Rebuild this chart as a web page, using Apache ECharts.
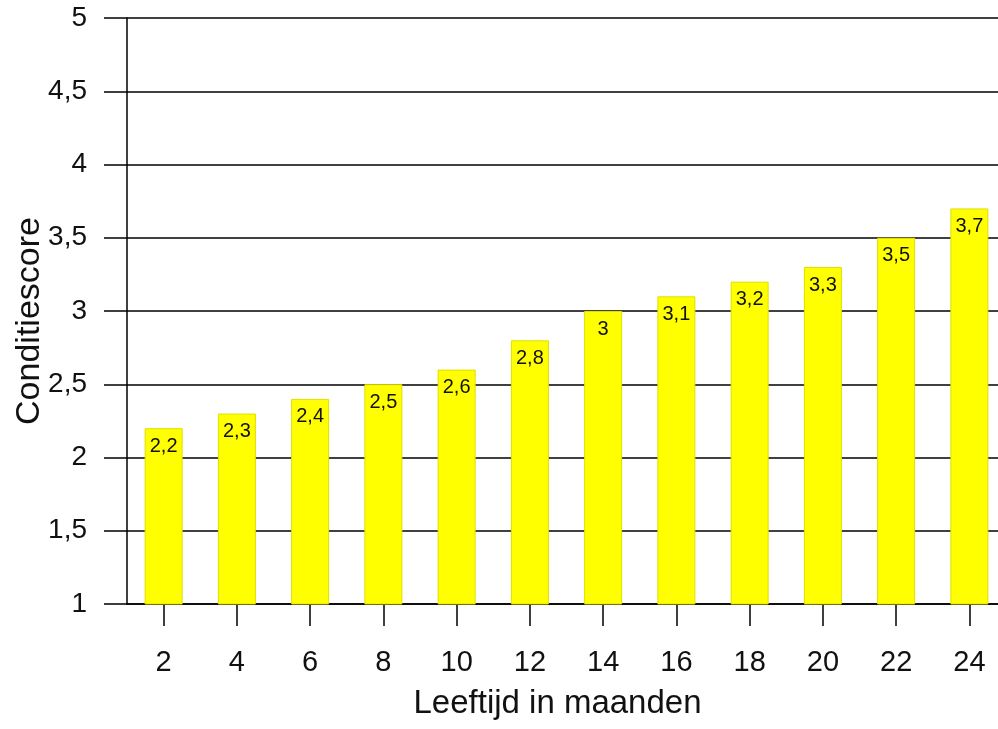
<!DOCTYPE html>
<html>
<head>
<meta charset="utf-8">
<script src="https://cdn.jsdelivr.net/npm/echarts@6/dist/echarts.min.js"></script>
<style>
  html, body { margin: 0; padding: 0; background: #fff; overflow: hidden; }
  /* the plot runs a few pixels past the right window edge */
  #chart { width: 1006px; height: 729px; }
</style>
</head>
<body>
<div id="chart"></div>
<script>
// Leeftijd (maanden) en gemiddelde conditiescore
const months = ['2', '4', '6', '8', '10', '12', '14', '16', '18', '20', '22', '24'];
const scores = [2.2, 2.3, 2.4, 2.5, 2.6, 2.8, 3, 3.1, 3.2, 3.3, 3.5, 3.7];
const yMin = 1, yMax = 5, yStep = 0.5;

const font = '"Liberation Sans", Arial, Helvetica, sans-serif';
const comma = v => String(v).replace('.', ',');

const chart = echarts.init(document.getElementById('chart'), null, { renderer: 'canvas' });
chart.setOption({
  animation: false,
  backgroundColor: '#ffffff',
  grid: { left: 127, right: 0, top: 18, bottom: 125, containLabel: false, outerBoundsMode: 'none' },
  xAxis: {
    type: 'category',
    data: months,
    name: 'Leeftijd in maanden',
    nameLocation: 'middle',
    nameGap: 83,
    nameMoveOverlap: false,
    nameTextStyle: { fontFamily: font, fontSize: 33, color: '#111', padding: [0, 18, 0, 0] },
    axisLine: { show: true, lineStyle: { color: '#000', width: 1.5 } },
    axisTick: { show: true, alignWithLabel: true, length: 22, lineStyle: { color: '#000', width: 1.5 } },
    axisLabel: { show: true, margin: 44, fontFamily: font, fontSize: 29, color: '#111' },
    splitLine: { show: false }
  },
  yAxis: {
    type: 'value',
    min: yMin, max: yMax, interval: yStep,
    name: 'Conditiescore',
    nameLocation: 'middle',
    nameRotate: 90,
    nameGap: 80,
    nameMoveOverlap: false,
    nameTextStyle: { fontFamily: font, fontSize: 34, color: '#111', padding: [0, 20, 0, 0] },
    axisLine: { show: true, lineStyle: { color: '#000', width: 1.5 } },
    axisTick: { show: true, length: 23, lineStyle: { color: '#000', width: 1.5 } },
    axisLabel: { margin: 40, fontFamily: font, fontSize: 28, color: '#111', formatter: comma },
    splitLine: { show: true, lineStyle: { color: '#000', width: 1.5 } }
  },
  series: [{
    type: 'bar',
    data: scores,
    barWidth: 38,
    itemStyle: { color: '#ffff00', borderColor: '#dede00', borderWidth: 1 },
    label: {
      show: true,
      position: 'insideTop',
      distance: 8,
      fontFamily: font,
      fontSize: 20,
      color: '#111',
      formatter: p => comma(p.value)
    }
  }]
});
</script>
</body>
</html>
